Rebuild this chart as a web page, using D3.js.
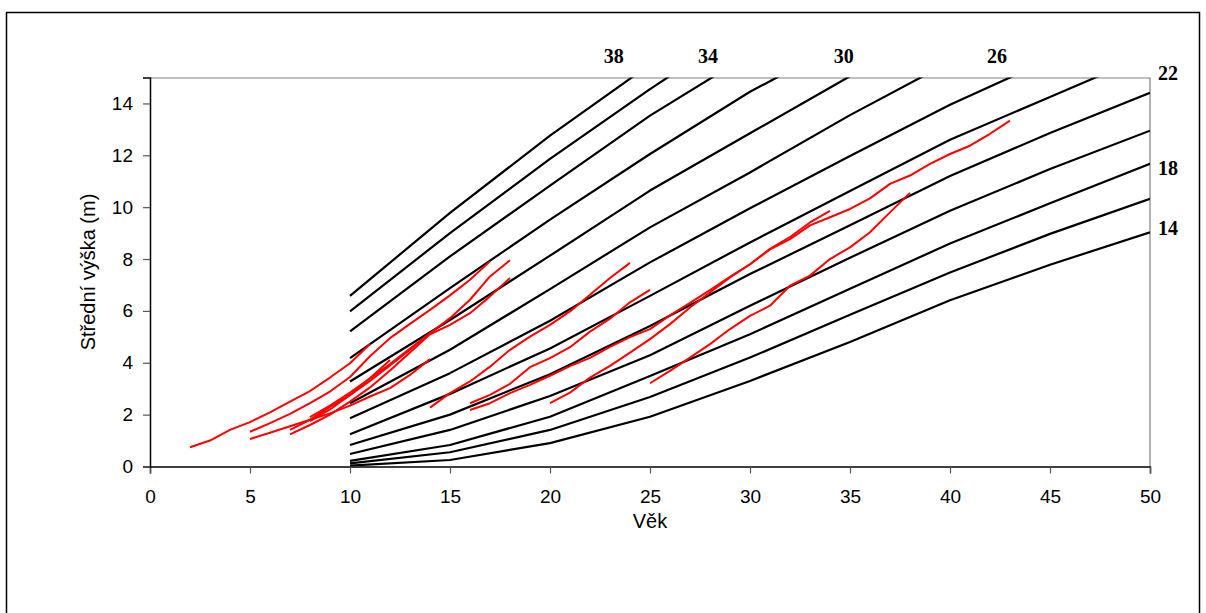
<!DOCTYPE html>
<html>
<head>
<meta charset="utf-8">
<script src="https://cdn.jsdelivr.net/npm/d3@7"></script>
<style>
  body { margin: 0; background: #fff; }
  svg { display: block; }
</style>
</head>
<body>
<div class="chart_wrapper"></div>
<script>

// ages where the site index curves have points
const ages = [10, 15, 20, 25, 30, 35, 40, 45, 50]

// site index classes (height at 100 years), top to bottom
const siteClasses = [38, 36, 34, 32, 30, 28, 26, 24, 22, 20, 18, 16, 14]

// heights of each class at the ages above (null = off the chart)
const h38 = [6.58, 9.78, 12.76, 15.5, null, null, null, null, null]
const h36 = [5.98, 9.0, 11.86, 14.55, 17.1, null, null, null, null]
const h34 = [5.21, 8.1, 10.83, 13.53, 15.9, null, null, null, null]
const h32 = [4.18, 6.88, 9.52, 12.05, 14.45, 16.5, null, null, null]
const h30 = [3.28, 5.65, 8.13, 10.64, 12.85, 15.05, 17.0, null, null]
const h28 = [2.44, 4.5, 6.84, 9.22, 11.34, 13.55, 15.6, null, null]
const h26 = [1.86, 3.6, 5.62, 7.87, 9.96, 11.97, 13.95, 15.7, null]
const h24 = [1.24, 2.8, 4.55, 6.58, 8.64, 10.62, 12.6, 14.25, 15.9]
const h22 = [0.83, 2.0, 3.56, 5.42, 7.42, 9.3, 11.2, 12.86, 14.41]
const h20 = [0.48, 1.41, 2.72, 4.29, 6.2, 8.05, 9.86, 11.47, 12.95]
const h18 = [0.22, 0.83, 1.92, 3.49, 5.1, 6.85, 8.6, 10.15, 11.67]
const h16 = [0.12, 0.55, 1.41, 2.68, 4.2, 5.85, 7.48, 8.97, 10.32]
const h14 = [0.03, 0.25, 0.9, 1.92, 3.3, 4.8, 6.41, 7.78, 9.03]

const classHeights = [h38, h36, h34, h32, h30, h28, h26, h24, h22, h20, h18, h16, h14]

// labelled classes
const topLabels = [38, 34, 30, 26]
const rightLabels = [22, 18, 14]

// measured stands: first age, then heights year by year
const stands = [
  {from: 2, h: [0.74, 1.0, 1.41, 1.71, 2.09, 2.5, 2.91, 3.43, 3.98, 4.72]},
  {from: 5, h: [1.34, 1.67, 2.03, 2.44, 2.89, 3.45, 4.25, 4.95, 5.5, 6.04, 6.6, 7.2, 7.91]},
  {from: 5, h: [1.06, 1.3, 1.55, 1.8, 2.05, 2.35, 2.7, 3.02, 3.53, 4.14]},
  {from: 7, h: [1.41, 1.8, 2.3, 2.75, 3.3, 3.9, 4.5, 5.14, 5.72, 6.43, 7.33, 7.95]},
  {from: 7, h: [1.24, 1.6, 2.0, 2.5, 3.05, 3.7, 4.4, 5.1, 5.46, 5.91, 6.56, 7.27]},
  {from: 8, h: [1.75, 2.2, 2.75, 3.4, 4.11]},
  {from: 8, h: [1.9, 2.35, 2.85, 3.4, 3.95, 4.55, 5.14]},
  {from: 14, h: [2.27, 2.83, 3.28, 3.85, 4.5, 5.01, 5.46, 5.98, 6.62, 7.27, 7.85]},
  {from: 16, h: [2.44, 2.76, 3.19, 3.83, 4.18, 4.6, 5.2, 5.7, 6.33, 6.81]},
  {from: 16, h: [2.18, 2.44, 2.83, 3.15, 3.5, 3.87, 4.19, 4.61, 4.99, 5.3, 5.83, 6.31, 6.8, 7.31,
                 7.8, 8.37, 8.77, 9.3, 9.61, 9.93, 10.34, 10.9, 11.22, 11.67, 12.05, 12.37, 12.83, 13.34]},
  {from: 20, h: [2.44, 2.85, 3.43, 3.88, 4.39, 4.91, 5.49, 6.13, 6.71, 7.29, 7.8, 8.39, 8.85, 9.41, 9.86]},
  {from: 25, h: [3.21, 3.69, 4.2, 4.72, 5.3, 5.81, 6.2, 6.97, 7.36, 8.0, 8.45, 9.03, 9.8, 10.55]}
]

const xTicks = [0, 5, 10, 15, 20, 25, 30, 35, 40, 45, 50]
const yTicks = [0, 2, 4, 6, 8, 10, 12, 14]


// dimensions

let dimensions = {
  width: 1206,
  height: 613,
  margin: {
    top: 77.5,
    right: 56,
    bottom: 146.5,
    left: 150,
  },
}
dimensions.boundedWidth = dimensions.width - dimensions.margin.left - dimensions.margin.right
dimensions.boundedHeight = dimensions.height - dimensions.margin.top - dimensions.margin.bottom

const wrapper = d3.select(".chart_wrapper")
  .append("svg")
    .attr("width", dimensions.width)
    .attr("height", dimensions.height)

// outer frame (bottom edge is cut off in the original)
wrapper.append("rect")
  .attr("x", 6.5)
  .attr("y", 12.5)
  .attr("width", 1193)
  .attr("height", 640)
  .attr("fill", "none")
  .attr("stroke", "#000")
  .attr("stroke-width", 1.5)

const bounds = wrapper.append("g")
  .attr("transform", `translate(${dimensions.margin.left},${dimensions.margin.top})`)

// scales

const xScale = d3.scaleLinear()
  .domain([0, 50])
  .range([0, dimensions.boundedWidth])

const yScale = d3.scaleLinear()
  .domain([0, 15])
  .range([dimensions.boundedHeight, 0])

// plot area frame (top + right in grey)
bounds.append("path")
  .attr("d", `M0,0.5H${dimensions.boundedWidth}V${dimensions.boundedHeight}`)
  .attr("fill", "none")
  .attr("stroke", "#808080")
  .attr("stroke-width", 1.2)

bounds.append("clipPath")
    .attr("id", "plotClip")
  .append("rect")
    .attr("width", dimensions.boundedWidth)
    .attr("height", dimensions.boundedHeight)

// axes

const xAxis = d3.axisBottom(xScale)
  .tickValues(xTicks)
  .tickSize(7)
  .tickPadding(16)

const yAxis = d3.axisLeft(yScale)
  .tickValues(yTicks)
  .tickSize(7)
  .tickPadding(10)

const xAxisG = bounds.append("g")
  .attr("transform", `translate(0,${dimensions.boundedHeight})`)
  .call(xAxis)

const yAxisG = bounds.append("g")
  .call(yAxis)

;[xAxisG, yAxisG].forEach(g => {
  g.select(".domain").attr("stroke", "#000").attr("stroke-width", 1.5)
  g.selectAll(".tick line").attr("stroke", "#555").attr("stroke-width", 1.2)
  g.selectAll(".tick text")
    .attr("fill", "#000")
    .style("font-family", "'Liberation Sans', Arial, sans-serif")
    .style("font-size", "19px")
})

// axis titles
wrapper.append("text")
  .attr("x", dimensions.margin.left + xScale(25))
  .attr("y", 528)
  .attr("text-anchor", "middle")
  .style("font-family", "'Liberation Sans', Arial, sans-serif")
  .style("font-size", "20px")
  .text("Věk")

wrapper.append("text")
  .attr("transform", `translate(95,${dimensions.margin.top + yScale(7.5)}) rotate(-90)`)
  .attr("text-anchor", "middle")
  .style("font-family", "'Liberation Sans', Arial, sans-serif")
  .style("font-size", "20px")
  .text("Střední výška (m)")

// site index curves

const curveLine = d3.line()
  .defined(d => d.h !== null)
  .x(d => xScale(d.age))
  .y(d => yScale(d.h))

const curves = siteClasses.map((si, i) => ({
  si: si,
  points: ages.map((a, j) => ({age: a, h: classHeights[i][j]}))
}))

const plot = bounds.append("g")
  .attr("clip-path", "url(#plotClip)")

plot.selectAll(".curve")
  .data(curves)
  .enter()
  .append("path")
    .attr("class", "curve")
    .attr("d", d => curveLine(d.points))
    .attr("fill", "none")
    .attr("stroke", "#000")
    .attr("stroke-width", 2.2)
    .attr("stroke-linejoin", "round")

// measured stands

const standLine = d3.line()
  .x(d => xScale(d.age))
  .y(d => yScale(d.h))

plot.selectAll(".stand")
  .data(stands)
  .enter()
  .append("path")
    .attr("class", "stand")
    .attr("d", d => standLine(d.h.map((v, k) => ({age: d.from + k, h: v}))))
    .attr("fill", "none")
    .attr("stroke", "#ff0000")
    .attr("stroke-width", 2)
    .attr("stroke-linejoin", "round")

// where a curve leaves the top of the plot
function topCrossing(pts) {
  for (let k = 1; k < pts.length; k++) {
    const a = pts[k - 1], b = pts[k]
    if (b.h !== null && b.h >= 15) {
      return a.age + (15 - a.h) / (b.h - a.h) * (b.age - a.age)
    }
  }
  return 50
}

const labelFont = "'Liberation Serif', 'Times New Roman', serif"

// hand placed label offsets, like the original
const topNudge = {38: -18, 34: -4, 30: -4, 26: -13}
const rightNudge = {22: -20, 18: 4, 14: -4}

bounds.selectAll(".topLabel")
  .data(curves.filter(c => topLabels.includes(c.si)))
  .enter()
  .append("text")
    .attr("x", d => xScale(topCrossing(d.points)) + (topNudge[d.si] || 0))
    .attr("y", -15)
    .attr("text-anchor", "middle")
    .style("font-family", labelFont)
    .style("font-weight", "bold")
    .style("font-size", "20px")
    .text(d => d.si)

bounds.selectAll(".rightLabel")
  .data(curves.filter(c => rightLabels.includes(c.si)))
  .enter()
  .append("text")
    .attr("x", dimensions.boundedWidth + 8)
    .attr("y", d => yScale(d.points[d.points.length - 1].h) + 7 + (rightNudge[d.si] || 0))
    .style("font-family", labelFont)
    .style("font-weight", "bold")
    .style("font-size", "20px")
    .text(d => d.si)

</script>
</body>
</html>
